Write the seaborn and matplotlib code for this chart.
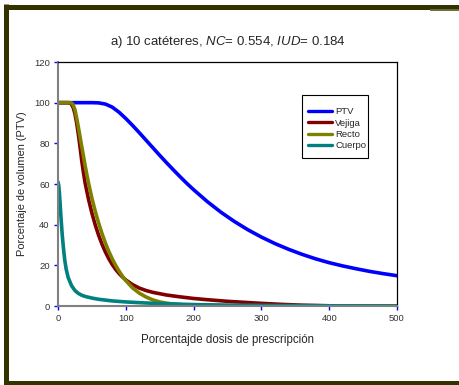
import numpy as np
import pandas as pd
import seaborn as sns
import matplotlib
matplotlib.use("Agg")
import matplotlib.pyplot as plt
from matplotlib.lines import Line2D
from matplotlib.patches import Rectangle

# dose-volume curves
ptv_x = [0, 50, 60, 70, 80, 90, 100, 110, 120, 130, 140, 150, 160, 170, 180, 190,
         200, 220, 240, 260, 280, 300, 320, 340, 360, 380, 400, 420, 440, 460, 480, 500]
ptv_y = [100, 100, 99.9, 99.3, 97.8, 95.3, 92.2, 88.8, 85.2, 81.5, 77.8, 74.1, 70.5, 67.0, 63.6, 60.3,
         57.2, 51.4, 46.2, 41.6, 37.5, 33.9, 30.7, 27.9, 25.4, 23.2, 21.3, 19.7, 18.3, 17.0, 15.9, 14.9]

vejiga_x = [0, 15, 18, 20, 22.5, 25, 27.5, 30, 32.5, 35, 37.5, 40, 45, 50, 55, 60, 65, 70, 75,
            80, 85, 90, 95, 100, 110, 120, 130, 140, 160, 180, 200, 220, 250, 280, 300, 330,
            360, 400, 450, 500]
vejiga_y = [100, 100, 99.8, 99.2, 97.5, 94.5, 90, 84.5, 78.2, 71.5, 65.7, 60.5, 52.5, 45.7, 39.8,
            34.7, 30.3, 26.5, 23.2, 20.4, 18.0, 16.0, 14.3, 12.8, 10.5, 8.8, 7.6, 6.7, 5.4, 4.5,
            3.7, 3.1, 2.3, 1.7, 1.3, 0.8, 0.4, 0.1, 0, 0]

recto_x = [0, 18, 20, 22, 25, 27.5, 30, 35, 40, 45, 50, 55, 60, 65, 70, 75, 80, 85, 90, 95, 100,
           110, 120, 130, 140, 150, 160, 170, 185, 200, 250, 300, 500]
recto_y = [100, 100, 99.8, 99.2, 96.5, 92.5, 88, 78.5, 69, 60.5, 53, 46.5, 40.7, 35.5, 30.9, 26.8,
           23.2, 20.0, 17.2, 14.7, 12.5, 8.9, 6.3, 4.4, 3.0, 2.0, 1.4, 0.95, 0.55, 0.3, 0.05, 0, 0]

cuerpo_x = [0, 1, 2, 3, 4, 6, 8, 10, 12, 15, 20, 25, 30, 35, 40, 50, 60, 80, 100, 125, 150,
            200, 250, 300, 400, 500]
cuerpo_y = [61, 59.5, 56, 51, 45.5, 36, 28.5, 22.5, 18.2, 14, 10, 7.6, 6.2, 5.3, 4.7, 3.9, 3.3,
            2.5, 2.0, 1.55, 1.2, 0.7, 0.45, 0.3, 0.1, 0]

organs = ["PTV", "Vejiga", "Recto", "Cuerpo"]
colors = ["#0000ff", "#800000", "#808000", "#008080"]
yticks = [0, 20, 40, 60, 80, 100, 120]
xticks = [0, 100, 200, 300, 400, 500]

df = pd.concat([
    pd.DataFrame({"dosis": ptv_x, "vol": ptv_y, "organo": "PTV"}),
    pd.DataFrame({"dosis": vejiga_x, "vol": vejiga_y, "organo": "Vejiga"}),
    pd.DataFrame({"dosis": recto_x, "vol": recto_y, "organo": "Recto"}),
    pd.DataFrame({"dosis": cuerpo_x, "vol": cuerpo_y, "organo": "Cuerpo"}),
])

sns.set_style("white")
plt.rcParams["font.family"] = ["Liberation Sans", "DejaVu Sans"]
plt.rcParams["mathtext.fontset"] = "custom"
plt.rcParams["mathtext.rm"] = "Liberation Sans"
plt.rcParams["mathtext.it"] = "Liberation Sans:italic"

W, H = 459, 385
fig = plt.figure(figsize=(W / 100, H / 100), dpi=100)
ax = fig.add_axes([58 / W, 1 - 306 / H, 339 / W, 244 / H])

sns.lineplot(data=df, x="dosis", y="vol", hue="organo", hue_order=organs,
             palette=colors, linewidth=2.6, sort=False, ax=ax, legend=False)

ax.set_xlim(0, 500)
ax.set_ylim(0, 120)
ax.set_xticks(xticks)
ax.set_yticks(yticks)
ax.tick_params(axis="both", direction="out", length=3, width=1, color="#0000ff",
               labelsize=6.8, labelcolor="#333333", pad=3, left=True, bottom=True)
for s in ["left", "bottom"]:
    ax.spines[s].set_color("#808080")
    ax.spines[s].set_linewidth(1.5)
for s in ["top", "right"]:
    ax.spines[s].set_color("#000000")
    ax.spines[s].set_linewidth(0.9)

ax.set_xlabel("Porcentajde dosis de prescripción", fontsize=8.3, labelpad=8)
ax.set_ylabel("Porcentaje de volumen (PTV)", fontsize=7.9, labelpad=5)
ax.set_title(r"a) 10 catéteres, $\it{NC}$= 0.554, $\it{IUD}$= 0.184",
             fontsize=9.5, pad=12)

# legend entries without frame, box drawn separately (Excel-style tight box)
handles = [Line2D([], [], color=c, lw=2.4) for c in colors]
ax.legend(handles, organs, loc="upper left",
          bbox_to_anchor=(308 / W, 1 - 107.5 / H), bbox_transform=fig.transFigure,
          fontsize=6.8, frameon=False, handlelength=2.5, handletextpad=0.4,
          labelspacing=0.24, borderpad=0, borderaxespad=0)
fig.add_artist(Rectangle((302 / W, 1 - 158 / H), 66 / W, 63 / H, fill=False,
                         edgecolor="black", lw=0.8, transform=fig.transFigure))

# outer olive frame
olive = "#333300"
kw = dict(transform=fig.transFigure, solid_capstyle="butt")
fig.add_artist(Line2D([6 / W, 6 / W], [1 - 4 / H, 0], color=olive, lw=3.6, **kw))
fig.add_artist(Line2D([4 / W, 1], [1 - 6.5 / H, 1 - 6.5 / H], color=olive, lw=3.6, **kw))
fig.add_artist(Line2D([430 / W, 1], [1 - 9.5 / H, 1 - 9.5 / H], color="#6b6b3a", lw=1.4, **kw))
fig.add_artist(Line2D([4 / W, 1], [1 - 383 / H, 1 - 383 / H], color=olive, lw=3.6, **kw))

fig.savefig("out.png", dpi=100)
